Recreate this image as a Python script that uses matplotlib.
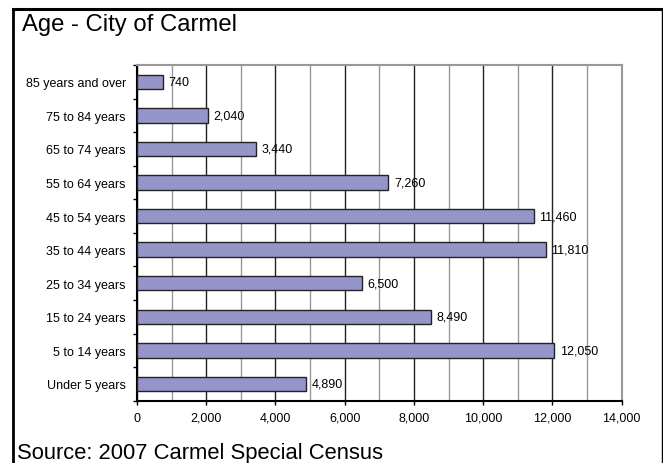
import matplotlib.pyplot as plt
from matplotlib.lines import Line2D
from matplotlib.ticker import FuncFormatter, MultipleLocator
import numpy as np

# Age groups, listed bottom to top as drawn
age_groups = ['Under 5 years', '5 to 14 years', '15 to 24 years', '25 to 34 years',
              '35 to 44 years', '45 to 54 years', '55 to 64 years', '65 to 74 years',
              '75 to 84 years', '85 years and over']
population = [4890, 12050, 8490, 6500, 11810, 11460, 7260, 3440, 2040, 740]

title = 'Age - City of Carmel'
source = 'Source: 2007 Carmel Special Census'

font = ['Liberation Sans', 'DejaVu Sans']

fig = plt.figure(figsize=(6.63, 4.64), dpi=100)
ax = fig.add_axes([0.2066, 0.1343, 0.7311, 0.7235])

y = np.arange(len(age_groups))
ax.barh(y, population, height=0.43, color='#9595c9', edgecolor='#222222',
        linewidth=1.0, zorder=3)

# value labels just right of each bar
for yi, v in zip(y, population):
    ax.annotate(f'{v:,}', xy=(v, yi), xytext=(4, 0), textcoords='offset points',
                va='center', ha='left', fontsize=9, family=font, zorder=4)

ax.set_xlim(0, 14000)
ax.set_ylim(-0.5, len(age_groups) - 0.5)

ax.set_yticks(y)
ax.set_yticklabels(age_groups, family=font, fontsize=9)
ax.yaxis.set_minor_locator(MultipleLocator(1, offset=0.5))
ax.tick_params(axis='y', which='major', length=0, pad=8)
ax.tick_params(axis='y', which='minor', length=3, width=1, color='black', direction='out')

ax.xaxis.set_major_locator(MultipleLocator(2000))
ax.xaxis.set_minor_locator(MultipleLocator(1000))
ax.xaxis.set_major_formatter(FuncFormatter(lambda v, p: f'{int(v):,}'))
ax.tick_params(axis='x', which='major', length=3, width=1, pad=5, labelsize=9)
ax.tick_params(axis='x', which='minor', length=0)
for lab in ax.get_xticklabels():
    lab.set_family(font)

# gridlines every 1000, darker at the labelled ones
ax.grid(axis='x', which='major', color='#222222', linewidth=1.0, zorder=0)
ax.grid(axis='x', which='minor', color='#999999', linewidth=1.0, zorder=0)
ax.set_axisbelow(True)

for side in ['left', 'bottom']:
    ax.spines[side].set_color('black')
    ax.spines[side].set_linewidth(1.5)
for side in ['top', 'right']:
    ax.spines[side].set_color('#999999')
    ax.spines[side].set_linewidth(1.5)

fig.text(22 / 663, 1 - 31.5 / 464, title, fontsize=17.2, family=font, va='baseline')
fig.text(17 / 663, 1 - 459 / 464, source, fontsize=15.8, family=font, va='baseline')

# outer frame (bottom edge runs off the picture)
fig.add_artist(Line2D([13 / 663, 661 / 663], [1 - 9.5 / 464, 1 - 9.5 / 464],
                      transform=fig.transFigure, color='black', linewidth=2.2))
fig.add_artist(Line2D([13 / 663, 13 / 663], [1 - 9.5 / 464, -0.05],
                      transform=fig.transFigure, color='black', linewidth=2.0))
fig.add_artist(Line2D([661.5 / 663, 661.5 / 663], [1 - 9.5 / 464, -0.05],
                      transform=fig.transFigure, color='black', linewidth=1.0))

fig.savefig('out.png', dpi=100)
